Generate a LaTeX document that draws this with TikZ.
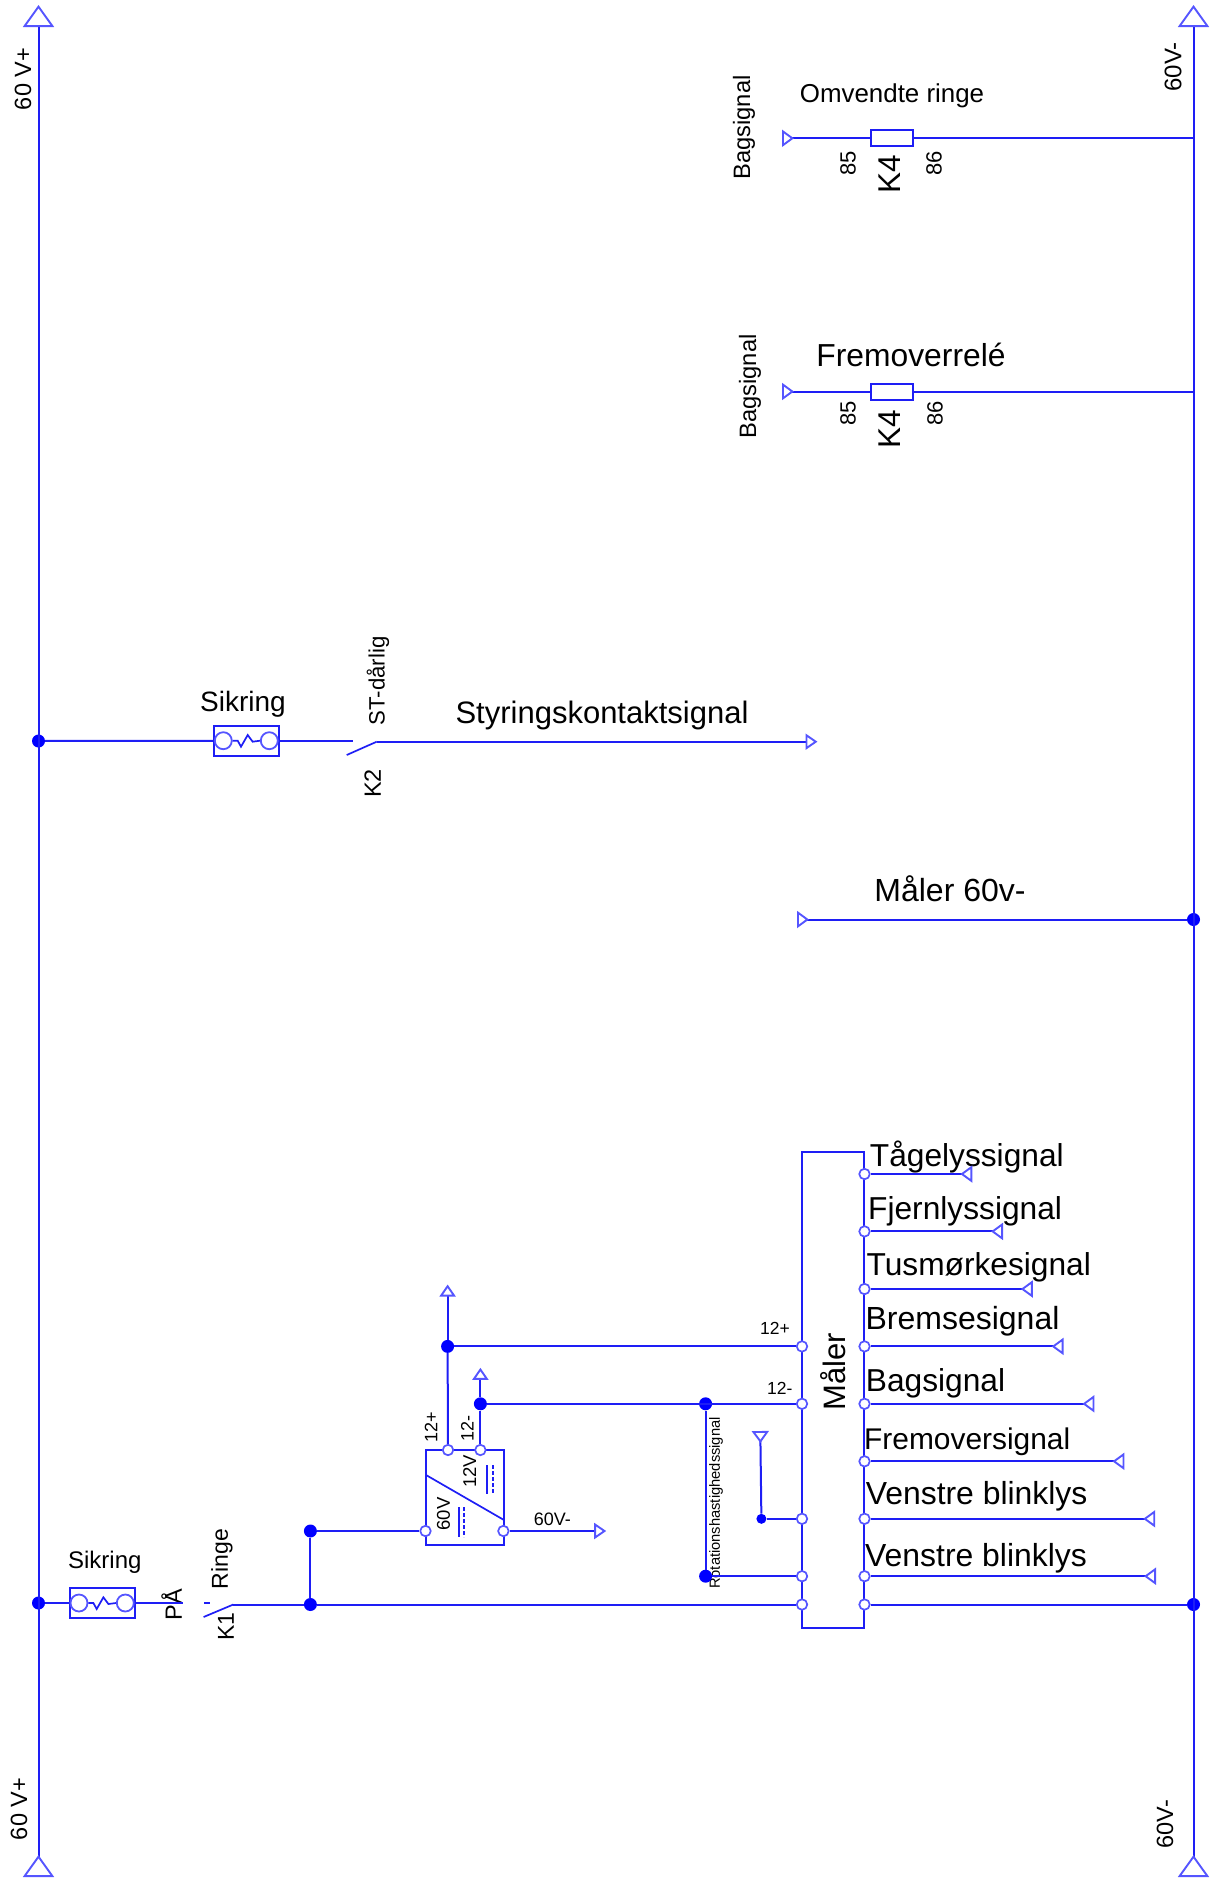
\documentclass[tikz,border=0pt]{standalone}
\usepackage{fontspec}
\setmainfont{Liberation Sans}
\usetikzlibrary{arrows.meta}
\definecolor{wireblue}{RGB}{30,30,245}
\definecolor{tipblue}{RGB}{85,85,255}
\tikzset{
  wire/.style={draw=wireblue, line width=2pt},
  thinwire/.style={draw=wireblue, line width=1.7pt},
  railtips/.style={wire, {Triangle[open, reversed, length=22pt, width=31pt, line width=1.9pt, color=tipblue]}-{Triangle[open, length=22pt, width=31pt, line width=1.9pt, color=tipblue]}},
  tipfwd/.style={wire, -{Triangle[open, length=12pt, width=16pt, line width=1.9pt, color=tipblue]}},
  tipback/.style={wire, -{Triangle[open, reversed, length=12pt, width=17pt, line width=1.9pt, color=tipblue]}},
  junction/.style={circle, fill=blue, inner sep=0pt, minimum size=13pt},
  port/.style={circle, draw=tipblue, fill=white, line width=1.7pt, inner sep=0pt, minimum size=10.5pt},
  fusebox/.style={draw=wireblue, line width=2pt, inner sep=0pt, minimum width=65pt, minimum height=30pt},
  fusering/.style={circle, draw=tipblue, line width=1.8pt, inner sep=0pt, minimum size=17pt},
  coil/.style={draw=wireblue, line width=2pt, inner sep=0pt, minimum width=42pt, minimum height=16pt},
  blockbox/.style={draw=wireblue, line width=2pt, inner sep=0pt},
  txt/.style={inner sep=0pt, font=\fontsize{#1}{#1}\selectfont},
  vtxt/.style={txt=#1, rotate=90},
  signaltxt/.style={txt=31.7, anchor=base west},
}
\begin{document}
\begin{tikzpicture}[x=1pt,y=-1pt]
\useasboundingbox (0,0) rectangle (1216,1887);
%Nodes
\coordinate (railLtop) at (38.5,5);
\coordinate (railLbot) at (38.5,1877);
\coordinate (railRtop) at (1193.5,5);
\coordinate (railRbot) at (1193.5,1877);
\node[vtxt=23.5] (volt1) at (23,79) {60 V+};
\node[vtxt=23.5] (volt2) at (19,1809) {60 V+};
\node[vtxt=24] (neg1) at (1173,67) {60V-};
\node[vtxt=23.5] (neg2) at (1165,1824) {60V-};

\node[coil] (coil1) at (891.5,138.3) {};
\coordinate (sigend1) at (782,138.3);
\coordinate (railcoil1) at (1193.5,138.3);
\node[vtxt=23.7] (bag1) at (744,127.5) {Bagsignal};
\node[txt=25.9] (omvendt) at (892,95.5) {Omvendte ringe};
\node[vtxt=22] (pin85a) at (848,163) {85};
\node[vtxt=22] (pin86a) at (934,163) {86};
\node[vtxt=31.5] (relay1) at (890,174) {K4};

\node[coil] (coil2) at (891.5,391.5) {};
\coordinate (sigend2) at (782,391.5);
\coordinate (railcoil2) at (1193.5,391.5);
\node[vtxt=23.7] (bag2) at (750,386.5) {Bagsignal};
\node[txt=31.8] (fremrelay) at (911,355) {Fremoverrelé};
\node[vtxt=22] (pin85b) at (848,413) {85};
\node[vtxt=22] (pin86b) at (935,413) {86};
\node[vtxt=31.5] (relay2) at (890,429) {K4};

\node[junction] (junc1) at (38.5,741) {};
\node[fusebox] (fuse1) at (246.7,740.7) {};
\node[fusering] (ring1a) at (223.3,740.7) {};
\node[fusering] (ring1b) at (269.3,740.7) {};
\coordinate (open1) at (353.3,740.7);
\coordinate (contact1a) at (346.7,755);
\coordinate (contact1b) at (376.7,741.7);
\coordinate (styrend) at (817.5,741.7);
\node[txt=28] (sikring1) at (243,704) {Sikring};
\node[vtxt=22.2] (stbad) at (378,681) {ST-dårlig};
\node[vtxt=23.5] (relayk2) at (372.7,783.5) {K2};
\node[txt=31] (styr) at (602,715) {Styringskontaktsignal};

\node[junction] (junc2) at (1193.5,919.5) {};
\coordinate (malerend) at (797,919.5);
\node[txt=32] (maler60) at (950,888.5) {Måler 60v-};

\node[blockbox, minimum width=62pt, minimum height=476.3pt] (maler) at (833,1390.2) {};
\node[vtxt=31] (malertxt) at (833,1371.7) {Måler};

\node[port] (portL1) at (802,1346.4) {};
\node[port] (portL2) at (802,1403.8) {};
\node[port] (portL3) at (802,1518.8) {};
\node[port] (portL4) at (802,1576.2) {};
\node[port] (portL5) at (802,1604.5) {};

\node[port] (portR1) at (864.5,1174) {};
\node[port] (portR2) at (864.5,1231.4) {};
\node[port] (portR3) at (864.5,1289) {};
\node[port] (portR4) at (864.5,1346.4) {};
\node[port] (portR5) at (864.5,1403.8) {};
\node[port] (portR6) at (864.5,1461.3) {};
\node[port] (portR7) at (864.5,1518.8) {};
\node[port] (portR8) at (864.5,1576.2) {};
\node[port] (portR9) at (864.5,1604.5) {};

\coordinate (endR1) at (972.3,1174);
\coordinate (endR2) at (1003,1231.4);
\coordinate (endR3) at (1032.8,1289);
\coordinate (endR4) at (1063.6,1346.4);
\coordinate (endR5) at (1094.4,1403.8);
\coordinate (endR6) at (1124.4,1461.3);
\coordinate (endR7) at (1155.2,1518.8);
\coordinate (endR8) at (1156,1576.2);

\node[signaltxt] (sig1) at (869.7,1166.5) {Tågelyssignal};
\node[signaltxt] (sig2) at (868,1219.6) {Fjernlyssignal};
\node[signaltxt] (sig3) at (866.4,1275.7) {Tusmørkesignal};
\node[signaltxt, txt=32] (sig4) at (865.4,1329.8) {Bremsesignal};
\node[signaltxt] (sig5) at (865.7,1391.3) {Bagsignal};
\node[signaltxt, txt=29.9] (sig6) at (864,1449.8) {Fremoversignal};
\node[signaltxt, txt=31.9] (sig7) at (865.6,1504.6) {Venstre blinklys};
\node[signaltxt, txt=31.9] (sig8) at (865,1566.4) {Venstre blinklys};

\node[txt=17.5] (plus12) at (775,1328.4) {12+};
\node[txt=17.5] (minus12) at (779.8,1388) {12-};
\node[vtxt=14.7] (rotsig) at (716,1503) {Rotationshastighedssignal};

\node[junction] (junc12p) at (447.6,1346.4) {};
\node[junction] (junc12m) at (480.4,1403.8) {};
\node[junction] (juncrot1) at (705.6,1403.8) {};
\node[junction] (juncrot2) at (705.6,1576.2) {};
\node[circle, fill=blue, inner sep=0pt, minimum size=10pt] (juncrot3) at (761.4,1518.8) {};
\coordinate (rotend) at (760.3,1431);

\node[blockbox, minimum width=78.5pt, minimum height=95pt] (conv) at (464.8,1497.5) {};
\node[port] (convA) at (448,1450) {};
\node[port] (convB) at (480.4,1450) {};
\node[port] (convC) at (425.5,1531) {};
\node[port] (convD) at (503.4,1531) {};
\coordinate (convdiag1) at (425.5,1474.7);
\coordinate (convdiag2) at (504,1520);
\node[vtxt=18.5] (conv60) at (443.6,1514) {60V};
\node[vtxt=18.5] (conv12) at (469.7,1471.4) {12V};
\node[vtxt=18] (conv12p) at (431,1427.5) {12+};
\node[vtxt=18] (conv12m) at (467.4,1428.8) {12-};
\node[txt=18] (conv60m) at (552.4,1519) {60V-};
\coordinate (end12p) at (447.6,1284.5);
\coordinate (end12m) at (480.4,1367.8);
\coordinate (endconv) at (606.2,1531);

\node[junction] (junc3) at (38.5,1603) {};
\node[fusebox] (fuse2) at (102.4,1603) {};
\node[fusering] (ring2a) at (79,1603) {};
\node[fusering] (ring2b) at (125.3,1603) {};
\coordinate (open2) at (183,1603);
\coordinate (dash2a) at (204.4,1603);
\coordinate (dash2b) at (209.6,1603);
\coordinate (contact2a) at (203.6,1617);
\coordinate (contact2b) at (233.3,1604.5);
\node[junction] (junc4) at (310.4,1604.5) {};
\node[junction] (junc5) at (310.4,1531) {};
\node[junction] (junc6) at (1193.5,1604.5) {};
\node[txt=24] (sikring2) at (104.8,1562) {Sikring};
\node[vtxt=23.5] (paa) at (171.5,1604.5) {PÅ};
\node[vtxt=23] (ringe) at (222,1559) {Ringe};
\node[vtxt=23] (relayk1) at (226,1626.6) {K1};

%Lines
\draw[railtips] (railLbot) -- (railLtop);
\draw[railtips] (railRbot) -- (railRtop);

\draw[tipback] (coil1) edge (sigend1);
\draw[wire] (coil1) edge (railcoil1);

\draw[tipback] (coil2) edge (sigend2);
\draw[wire] (coil2) edge (railcoil2);

\draw[wire] (junc1) edge (fuse1);
\draw[wire] (fuse1) edge (open1);
\draw[thinwire] (contact1a) -- (contact1b);
\draw[tipfwd] (contact1b) -- (styrend);
\draw[thinwire] (ring1a.east) -- ++(5,0) -- ++(3.3,6) -- ++(6.7,-11.7) -- ++(5,6.7) -- (ring1b.west);

\draw[tipback] (junc2) edge (malerend);
\draw[wire] (portR9) edge (junc6);

\draw[tipback] (portR1) edge (endR1);
\draw[tipback] (portR2) edge (endR2);
\draw[tipback] (portR3) edge (endR3);
\draw[tipback] (portR4) edge (endR4);
\draw[tipback] (portR5) edge (endR5);
\draw[tipback] (portR6) edge (endR6);
\draw[tipback] (portR7) edge (endR7);
\draw[tipback] (portR8) edge (endR8);

\draw[wire] (junc12p) edge (portL1);
\draw[wire] (junc12m) edge (portL2);
\draw[wire] (juncrot1) edge (juncrot2);
\draw[wire] (juncrot2) edge (portL4);
\draw[wire] (juncrot3) edge (portL3);
\draw[tipback] (juncrot3) edge (rotend);

\draw[wire] (convA) edge (junc12p);
\draw[tipfwd] (junc12p) edge (end12p);
\draw[wire] (convB) edge (junc12m);
\draw[tipfwd] (junc12m) edge (end12m);
\draw[tipfwd] (convD) edge (endconv);
\draw[thinwire] (convdiag1) -- (convdiag2);
\draw[wire] (junc5) edge (convC);

\draw[thinwire] (459.3,1507) -- (459.3,1537);
\draw[thinwire, dash pattern=on 4pt off 2pt] (464.2,1507) -- (464.2,1537);
\draw[thinwire] (487.3,1465) -- (487.3,1494);
\draw[thinwire, dash pattern=on 4pt off 2pt] (492.7,1465) -- (492.7,1494);

\draw[wire] (junc3) edge (fuse2);
\draw[wire] (fuse2) edge (open2);
\draw[thinwire] (dash2a) -- (dash2b);
\draw[thinwire] (contact2a) -- (contact2b);
\draw[wire] (contact2b) -- (junc4);
\draw[wire] (junc4) edge (junc5);
\draw[wire] (junc4) edge (portL5);
\draw[thinwire] (ring2a.east) -- ++(5,0) -- ++(3.3,6) -- ++(6.7,-11.7) -- ++(5,6.7) -- (ring2b.west);
\end{tikzpicture}
\end{document}
